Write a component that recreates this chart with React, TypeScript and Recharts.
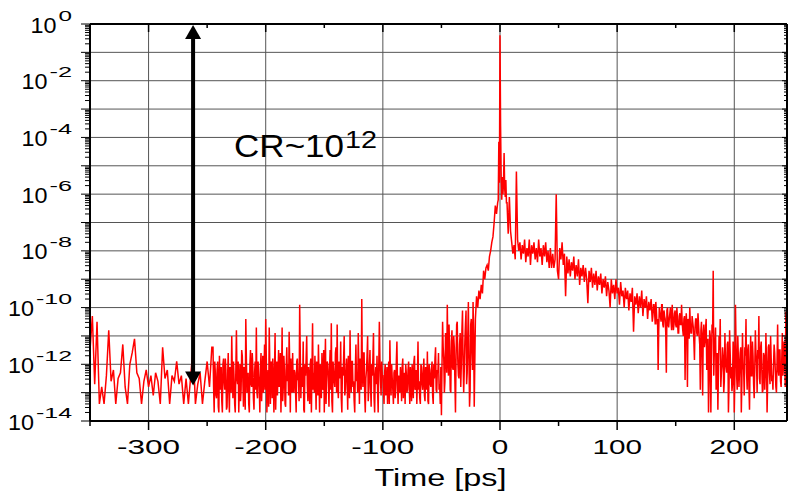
import React from 'react';
import {
  LineChart,
  Line,
  XAxis,
  YAxis,
  CartesianGrid,
  ReferenceLine,
  ReferenceDot,
} from 'recharts';

// ---------- data (time in ps, intensity as log10 of normalised signal) ----------
// Background before the pedestal, sampled every 2 ps from -350 ps
const backgroundStart = -350;
const backgroundStep = 2;
const backgroundLog = [
  -11.5, -10.3, -12.7, -10.5, -13.4, -12.8, -13.4, -12.4, -10.8, -12.6,
  -12.2, -13.4, -12.5, -12.3, -11.3, -12.8, -13.4, -12.0, -11.6, -11.1,
  -12.3, -12.5, -13.4, -12.6, -12.2, -12.8, -12.4, -13.1, -12.3, -12.6,
  -13.4, -11.4, -12.5, -12.2, -13.4, -12.4, -12.6, -11.9, -12.7, -12.4,
  -13.4, -12.5, -13.4, -12.4, -11.4, -13.4, -12.7, -12.3, -13.4, -12.6,
  -11.9, -12.8, -11.4,
];

// Dense noise region, every 1 ps from -245 ps
const noiseStart = -245;
const noiseLog = [
  -11.4, -13.7, -12.3, -13.2, -11.9, -13.7, -12.6, -12.1, -13.7, -11.8,
  -12.9, -12.2, -13.5, -11.6, -13.7, -12.4, -11.0, -13.2, -12.5, -13.7,
  -10.8, -12.7, -13.7, -12.0, -12.9, -11.7, -13.5, -12.2, -10.4, -13.0,
  -12.3, -13.7, -11.5, -12.8, -12.1, -13.6, -11.9, -10.7, -13.2, -12.4,
  -13.7, -11.6, -12.5, -13.0, -11.3, -10.4, -13.7, -12.2, -10.7, -13.4,
  -12.0, -11.8, -13.7, -10.9, -12.6, -13.1, -11.5, -12.3, -13.7, -10.7,
  -12.8, -12.2, -13.5, -11.4, -12.0, -10.85, -13.7, -12.5, -11.6, -13.0,
  -12.3, -13.7, -11.8, -12.6, -9.9, -13.2, -12.1, -11.2, -13.7, -12.4,
  -11.0, -13.3, -12.6, -12.0, -13.7, -10.55, -12.3, -11.7, -13.6, -12.2,
  -11.3, -13.7, -12.5, -11.6, -12.9, -13.7, -11.1, -12.4, -12.0, -13.5,
  -11.5, -10.55, -13.7, -12.3, -12.8, -11.4, -10.6, -13.2, -12.1, -11.2,
  -13.7, -12.4, -11.0, -12.9, -11.8, -13.6, -12.2, -10.8, -13.0, -11.9,
  -12.6, -13.7, -11.3, -12.3, -10.9, -13.4, -12.0, -9.7, -12.8, -11.6,
  -13.7, -12.2, -11.0, -12.9, -11.5, -13.5, -12.4, -10.9, -13.7, -12.1,
  -11.7, -13.7, -10.5, -12.6, -11.9,
];
// Intermediate samples of the same region, every 1 ps from -244.5 ps
const noiseHalfStart = -244.5;
const noiseHalfLog = [
  -12.8, -11.9, -13.1, -12.2, -13.5, -11.7, -12.9, -13.3, -12.0, -12.6,
  -11.8, -13.6, -12.4, -12.9, -12.1, -13.0, -12.3, -11.9, -13.4, -12.2,
  -12.5, -11.9, -12.8, -13.3, -11.5, -12.6, -12.1, -13.6, -11.8, -12.4,
  -13.4, -12.0, -12.7, -11.6, -13.2, -12.3, -12.9, -13.0, -11.9, -12.8,
  -12.1, -13.3, -11.7, -12.4, -12.9, -11.8, -12.6, -13.5, -12.0, -11.9,
  -13.2, -12.5, -12.2, -13.6, -11.9, -12.3, -12.8, -11.6, -12.5, -13.3,
  -11.7, -13.4, -12.1, -12.6, -13.1, -12.0, -11.8, -13.0, -12.9, -12.2,
  -13.0, -11.9, -12.5, -13.3, -11.6, -12.4, -12.8, -13.6, -12.0, -11.8,
  -12.7, -12.1, -13.4, -11.8, -12.2, -12.9, -13.0, -12.4, -11.9, -13.1,
  -12.4, -12.0, -13.2, -12.7, -11.5, -12.3, -13.4, -11.9, -12.6, -12.2,
  -12.9, -13.3, -11.9, -12.6, -11.6, -13.0, -12.8, -11.9, -12.5, -13.2,
  -12.1, -11.8, -13.1, -12.3, -12.6, -11.7, -13.2, -12.5, -11.9, -12.8,
  -13.3, -12.2, -12.6, -13.0, -12.1, -11.8, -12.9, -12.3, -11.6, -13.1,
  -12.5, -11.7, -13.3, -12.1, -12.8, -12.0, -11.8, -13.2, -12.4, -12.7,
  -12.9, -12.1, -11.8, -13.1, -12.4,
];

// Quieter stretch, every 1 ps from -100 ps (and half-ps samples)
const quietStart = -100;
const quietLog = [
  -12.4, -13.4, -12.0, -12.8, -13.4, -11.9, -11.15, -13.1, -12.5, -13.4,
  -12.2, -12.9, -11.2, -13.4, -12.6, -12.1, -13.3, -11.8, -12.7, -13.4,
  -12.3, -12.9, -11.9, -13.4, -12.5, -12.0, -13.2, -11.7, -12.8, -13.4,
  -11.2, -12.6, -13.4, -12.1, -12.9, -11.8, -13.3, -12.4, -11.55, -13.4,
  -12.2, -12.8, -11.9, -13.4, -12.5, -11.4, -13.0, -12.3, -12.9, -13.4,
];
const quietHalfStart = -99.5;
const quietHalfLog = [
  -12.9, -12.3, -13.1, -12.1, -12.6, -13.4, -12.4, -12.0, -12.9, -12.3,
  -13.2, -11.9, -12.7, -12.4, -13.0, -12.5, -12.1, -13.2, -12.3, -12.0,
  -13.0, -12.2, -12.8, -12.1, -13.3, -12.6, -11.9, -12.9, -12.2, -12.5,
  -12.9, -13.2, -12.0, -12.7, -12.3, -13.1, -12.1, -12.9, -13.3, -12.0,
  -12.7, -12.2, -13.1, -12.0, -11.8, -12.9, -12.2, -11.6, -12.7, -12.1,
];

// Rising edge, every 1 ps from -50 ps
const riseStart = -50;
const riseLog = [
  -13.8, -10.5, -11.8, -12.6, -11.2, -9.9, -12.4, -11.5, -13.0, -10.8,
  -12.2, -11.4, -13.7, -10.6, -11.9, -12.5, -10.9, -12.0, -10.1, -13.0,
  -11.2, -10.1, -12.3, -9.8, -13.5, -10.6, -11.5, -9.8, -13.5,
  -10.4, -9.6, -10.0, -9.4, -9.7, -9.2, -9.5, -8.7, -9.0, -8.6,
  -8.5, -8.7, -8.2, -8.0, -7.7, -7.5, -7.0, -6.4, -6.7, -6.3,
];
const riseHalfStart = -49.5;
const riseHalfLog = [
  -12.0, -11.4, -13.0, -10.9, -12.3, -11.6, -10.6, -12.9, -11.2, -12.1,
  -11.0, -12.6, -11.7, -10.5, -12.4, -11.3, -12.8, -10.8, -11.9, -12.2,
  -10.6, -12.7, -11.0, -11.8, -12.9, -10.4, -12.2, -10.9,
];

// Main pulse
const peakTimes = [-1.5, -1, -0.5, 0, 0.5, 1, 1.5, 2, 2.5, 3, 3.5, 4, 4.5, 5, 5.5];
const peakLog = [-6.2, -4.15, -5.6, -0.4, -3.6, -5.4, -6.2, -5.4, -6.0, -5.6, -4.55, -5.8, -6.1, -5.5, -6.3];

// Trailing edge, every 1 ps from 6 ps
const tailStart = 6;
const tailLog = [
  -6.3, -7.4, -6.1, -7.3, -7.7, -8.1, -7.8, -8.3, -5.2, -7.6,
  -8.0, -7.7, -8.3, -7.8, -8.1, -7.6, -8.4, -7.9, -8.2, -7.6,
  -8.5, -7.8, -8.1, -7.7, -8.3, -7.9, -8.4, -7.6, -8.2, -7.9,
  -8.5, -7.8, -8.2, -7.7, -8.4, -8.0, -8.6, -7.9, -8.6, -8.1,
  -8.6,
  -8.3, -6.0, -8.7, -9.0, -7.9, -8.3, -7.7, -8.5, -8.1, -9.6,
  -8.2, -8.8, -8.3, -8.9, -8.4, -8.7, -8.2, -9.0, -8.5, -8.9,
  -8.3, -9.2, -8.6, -8.9, -8.5, -9.1, -8.6, -9.0, -9.85, -8.7,
  -9.1, -8.6, -9.3, -8.8, -9.2, -8.7, -9.4, -8.9, -9.2, -8.8,
  -9.5, -9.0, -9.3, -8.9, -9.6, -9.1, -9.4, -10.0, -9.0, -9.5,
  -9.2, -9.7, -9.0, -9.5, -9.3, -9.9, -9.1, -9.6, -9.4, -10.0,
  -9.3, -9.7, -9.4, -10.1, -9.5, -9.8, -9.3, -10.85, -9.6, -9.9,
  -9.5, -10.2, -9.6, -10.0, -9.4, -10.3, -9.7, -10.0, -9.6, -10.4,
  -9.8, -10.1, -9.7, -10.5, -9.9, -10.2, -9.8, -10.6, -12.2, -10.0,
  -10.3, -9.9, -10.6, -10.1, -10.4, -12.3, -10.0, -10.7, -10.2, -10.5,
  -9.9, -10.8, -10.2, -10.6, -10.0, -10.9, -10.3, -10.6, -9.9, -10.8,
  -10.4, -12.55, -10.2, -12.8, -10.5, -10.0, -10.9, -10.3, -10.7, -11.85,
  -10.4, -10.9, -10.2, -11.0, -12.9, -10.5, -13.1, -10.6, -11.2, -10.4,
  -11.4, -13.7, -10.8, -13.7, -10.6, -8.7, -11.5, -10.7, -12.6, -13.6,
  -11.0, -10.4, -12.3, -11.4, -13.0, -10.9, -12.1, -11.3, -13.7, -10.8,
  -12.5, -12.95, -11.2, -13.7, -9.9, -12.4, -11.0, -12.8, -11.6, -13.7,
  -10.9, -12.2, -11.4, -10.4, -12.9, -11.3, -13.6, -11.0, -12.4, -11.7,
  -13.2, -10.8, -12.0, -11.5, -10.3, -12.7, -11.2, -13.0, -11.6, -12.9,
  -10.9, -13.7, -11.4, -12.3, -11.0, -12.6, -12.9, -11.3, -12.2, -13.0,
  -10.6, -12.4, -11.5, -12.8, -10.9, -12.1, -11.6, -10.15, -13.7,
];
const tailHalfStart = 130.5;
const tailHalfLog = [
  -10.3, -9.9, -10.6, -10.1, -10.4, -10.8, -10.2, -10.5, -9.9, -10.7,
  -10.3, -10.9, -10.1, -10.6, -10.4, -10.0, -10.8, -10.3, -10.6, -10.1,
  -10.7, -10.4, -10.9, -10.2, -10.6, -10.5, -11.0, -10.3, -10.8, -10.6,
  -10.4, -11.1, -10.6, -10.9, -10.5, -11.2, -10.7, -10.4, -11.0, -10.6,
  -11.3, -10.8, -11.5, -10.9, -11.4, -10.7, -12.2, -11.1, -12.6, -11.0,
  -12.0, -10.9, -12.4, -11.2, -12.9, -11.6, -12.2, -11.5, -12.8, -12.0,
  -11.7, -12.6, -11.9, -12.3, -11.2, -12.8, -11.6, -12.1, -12.7, -11.4,
  -12.5, -11.3, -12.9, -11.8, -12.2, -11.4, -12.6, -12.0, -13.1, -11.7,
  -12.3, -11.5, -12.8, -11.9, -12.4, -11.2, -12.7, -12.1, -11.6, -13.0,
  -11.8, -12.5, -11.4, -12.2, -12.9, -11.7, -12.3, -11.9, -12.6, -11.3,
  -12.7, -11.8, -12.4, -12.0, -11.6, -12.8, -11.9, -12.2, -11.5, -12.6,
  -11.9, -12.4, -11.2, -12.8, -11.7,
];

// Axis ticks
const xDomain = [-350, 245];
const xTicks = [-350, -300, -250, -200, -150, -100, -50, 0, 50, 100, 150, 200];
const xGridValues = [-300, -200, -100, 0, 100, 200];
const yDecades = [-14, -13, -12, -11, -10, -9, -8, -7, -6, -5, -4, -3, -2, -1, 0];
const yMinorMultipliers = [2, 3, 4, 5, 6, 7, 8, 9];

// Annotation
const arrowTime = -262;
const arrowTopLog = 0;
const arrowBottomLog = -12.75;
const crLabelTime = -227;
const crLabelLog = -4.68;
const crMain = 'CR~10';
const crSup = '12';
const xAxisTitle = 'Time [ps]';

// ---------- build rows ----------
type Row = { t: number; v: number };
const rows: Row[] = [];
const pushUniform = (start: number, step: number, logs: number[]) => {
  logs.forEach((e, i) => rows.push({ t: start + i * step, v: Math.pow(10, e) }));
};
pushUniform(backgroundStart, backgroundStep, backgroundLog);
pushUniform(noiseStart, 1, noiseLog);
pushUniform(noiseHalfStart, 1, noiseHalfLog);
pushUniform(quietStart, 1, quietLog);
pushUniform(quietHalfStart, 1, quietHalfLog);
pushUniform(riseStart, 1, riseLog);
pushUniform(riseHalfStart, 1, riseHalfLog);
peakTimes.forEach((t, i) => rows.push({ t, v: Math.pow(10, peakLog[i]) }));
pushUniform(tailStart, 1, tailLog);
pushUniform(tailHalfStart, 1, tailHalfLog);
rows.sort((a, b) => a.t - b.t);

const yTicks: number[] = [];
yDecades.forEach((d) => {
  yTicks.push(Math.pow(10, d));
  if (d < 0) yMinorMultipliers.forEach((m) => yTicks.push(m * Math.pow(10, d)));
});
yTicks.sort((a, b) => a - b);
const yGridValues = yDecades.map((d) => Math.pow(10, d));

// ---------- layout ----------
const W = 780;
const H = 485;
const MARGIN = { top: 16, right: 1, bottom: 0, left: 0 };
const Y_AXIS_W = 82;
const X_AXIS_H = 72;
const PLOT_L = MARGIN.left + Y_AXIS_W;
const PLOT_T = MARGIN.top;
const PLOT_R = W - MARGIN.right;
const PLOT_B = H - MARGIN.bottom - X_AXIS_H;
const FONT = "'Liberation Sans', Arial, Helvetica, sans-serif";

const XTick = (props: any) => {
  const { x, payload } = props;
  const v = payload.value as number;
  const major = v % 100 === 0;
  const label = String(v);
  const len = label.replace('-', '').length * 16.5 + (v < 0 ? 13.5 : 0);
  return (
    <g>
      <line x1={x} x2={x} y1={PLOT_B} y2={PLOT_B + (major ? 9 : 5)} stroke="#000" strokeWidth={1.5} />
      <line x1={x} x2={x} y1={PLOT_T} y2={PLOT_T + (major ? 8 : 4)} stroke="#000" strokeWidth={1.5} />
      {major && (
        <text
          x={x}
          y={PLOT_B + 33.3}
          textAnchor="middle"
          fontSize={20}
          fontFamily={FONT}
          fill="#000"
          textLength={len}
          lengthAdjust="spacingAndGlyphs"
        >
          {label}
        </text>
      )}
    </g>
  );
};

const YTick = (props: any) => {
  const { y, payload } = props;
  const v = payload.value as number;
  const e = Math.log10(v);
  const n = Math.round(e);
  const major = Math.abs(e - n) < 1e-6;
  const labeled = major && n % 2 === 0;
  const sup = String(n);
  const supLen = sup.replace('-', '').length * 13.5 + (n < 0 ? 9 : 0);
  const right = PLOT_L - 18;
  return (
    <g>
      <line x1={PLOT_L} x2={PLOT_L - (major ? 9 : 5)} y1={y} y2={y} stroke="#000" strokeWidth={1} />
      <line x1={PLOT_R} x2={PLOT_R - (major ? 5 : 3)} y1={y} y2={y} stroke="#000" strokeWidth={1} />
      {labeled && (
        <g fontFamily={FONT} fill="#000">
          <text
            x={right - supLen - 2 - 26}
            y={y + 8.5}
            fontSize={22}
            textLength={26}
            lengthAdjust="spacingAndGlyphs"
          >
            10
          </text>
          <text
            x={right - supLen}
            y={y - 3.5}
            fontSize={14}
            textLength={supLen}
            lengthAdjust="spacingAndGlyphs"
          >
            {sup}
          </text>
        </g>
      )}
    </g>
  );
};

const ArrowShape = (props: any) => {
  const { x1, y1, x2, y2 } = props;
  if (x1 == null || y1 == null) return <g />;
  const x = x1;
  const top = Math.min(y1, y2) + 1;
  const bot = Math.max(y1, y2);
  const hh = 14;
  const hw = 8;
  return (
    <g>
      <line x1={x} x2={x} y1={top + hh - 2} y2={bot - hh + 2} stroke="#000" strokeWidth={4} />
      <polygon points={`${x},${top} ${x - hw},${top + hh} ${x + hw},${top + hh}`} fill="#000" />
      <polygon points={`${x},${bot} ${x - hw},${bot - hh} ${x + hw},${bot - hh}`} fill="#000" />
    </g>
  );
};

const CrLabel = (props: any) => {
  const { cx, cy } = props;
  if (cx == null || cy == null) return <g />;
  return (
    <g fontFamily={FONT} fill="#000">
      <text x={cx} y={cy} fontSize={32} textLength={110} lengthAdjust="spacingAndGlyphs">
        {crMain}
      </text>
      <text x={cx + 111} y={cy - 8.4} fontSize={23} textLength={32} lengthAdjust="spacingAndGlyphs">
        {crSup}
      </text>
    </g>
  );
};

const AxisTitle = (props: any) => {
  const vb = props.viewBox || { x: PLOT_L, y: PLOT_B, width: PLOT_R - PLOT_L, height: X_AXIS_H };
  return (
    <text
      x={vb.x + vb.width / 2 + 2}
      y={vb.y + 65}
      textAnchor="middle"
      fontSize={23}
      fontFamily={FONT}
      fill="#000"
      textLength={132}
      lengthAdjust="spacingAndGlyphs"
    >
      {xAxisTitle}
    </text>
  );
};

export default function App() {
  return (
    <div style={{ position: 'absolute', left: 8, top: 8, width: W, height: H }}>
      <LineChart width={W} height={H} data={rows} margin={MARGIN}>
        <CartesianGrid
          horizontalValues={yGridValues}
          verticalValues={xGridValues}
          stroke="#555"
          strokeWidth={1}
        />
        <XAxis
          dataKey="t"
          type="number"
          domain={xDomain}
          allowDataOverflow
          ticks={xTicks}
          interval={0}
          height={X_AXIS_H}
          tickLine={false}
          axisLine={{ stroke: '#000', strokeWidth: 2 }}
          tick={(p: any) => <XTick {...p} />}
          label={{ content: (p: any) => <AxisTitle {...p} /> }}
        />
        <YAxis
          type="number"
          scale="log"
          domain={[1e-14, 1]}
          allowDataOverflow
          ticks={yTicks}
          interval={0}
          width={Y_AXIS_W}
          tickLine={false}
          axisLine={{ stroke: '#000', strokeWidth: 2 }}
          tick={(p: any) => <YTick {...p} />}
        />
        <Line
          type="linear"
          dataKey="v"
          stroke="#ff0000"
          strokeWidth={1.5}
          dot={false}
          activeDot={false}
          isAnimationActive={false}
        />
        <ReferenceLine y={1} stroke="#000" strokeWidth={2} />
        <ReferenceLine x={xDomain[1]} stroke="#000" strokeWidth={2} />
        <ReferenceLine
          segment={[
            { x: arrowTime, y: Math.pow(10, arrowTopLog) },
            { x: arrowTime, y: Math.pow(10, arrowBottomLog) },
          ]}
          shape={(p: any) => <ArrowShape {...p} />}
        />
        <ReferenceDot
          x={crLabelTime}
          y={Math.pow(10, crLabelLog)}
          r={0}
          shape={(p: any) => <CrLabel {...p} />}
        />
      </LineChart>
    </div>
  );
}
